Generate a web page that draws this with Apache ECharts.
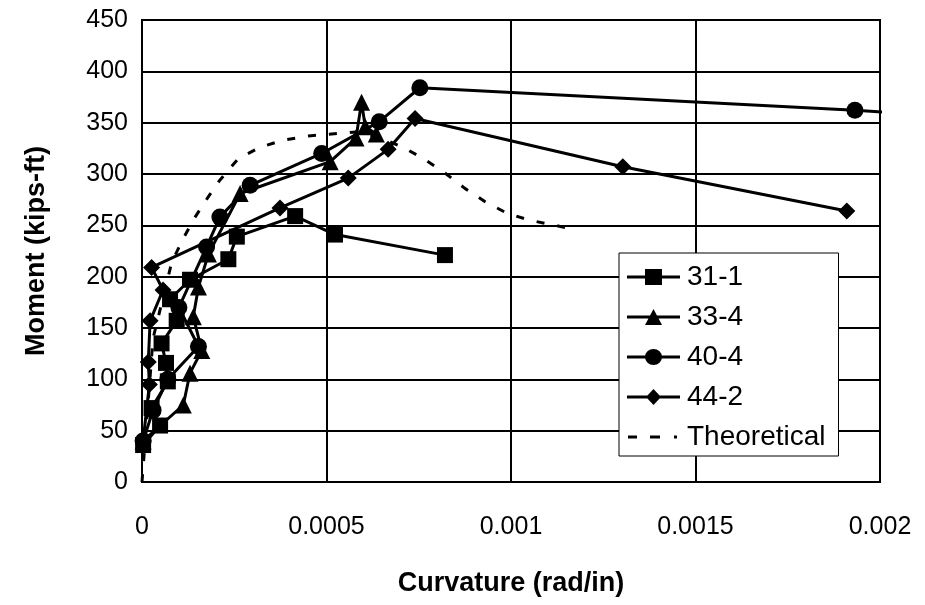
<!DOCTYPE html>
<html>
<head>
<meta charset="utf-8">
<script src="https://cdn.jsdelivr.net/npm/echarts@6/dist/echarts.min.js"></script>
<style>
html,body{margin:0;padding:0;background:#fff;}
#chart{width:925px;height:605px;}
</style>
</head>
<body>
<div id="chart"></div>
<script>
// ---- data ----
var seriesNames = ['31-1', '33-4', '40-4', '44-2', 'Theoretical'];

var x31 = [0.000003, 0.000049, 0.000026, 0.00007, 0.000065, 0.000053, 0.000094, 0.000076, 0.00013, 0.000234, 0.000257, 0.000415, 0.000523, 0.000821];
var y31 = [36, 55, 72, 98, 116, 135, 157, 178, 197, 217, 239, 259, 241, 221];

var x33 = [0.000003, 0.000112, 0.00013, 0.000162, 0.000139, 0.000153, 0.00018, 0.000266, 0.00051, 0.00058, 0.000595, 0.000605, 0.000635];
var y33 = [40, 75, 106, 128, 161, 190, 222, 281, 312, 335, 370, 346, 339];

var x40 = [0.000003, 0.00003, 0.00007, 0.000153, 0.0001, 0.000175, 0.000211, 0.000293, 0.000487, 0.000643, 0.000753, 0.001932, 0.00203];
var y40 = [40, 70, 100, 132, 170, 229, 258, 289, 320, 351, 384, 362, 360];

var x44 = [0.000003, 0.00002, 0.000017, 0.000022, 0.000057, 0.000026, 0.000374, 0.000559, 0.000667, 0.00074, 0.001303, 0.00191];
var y44 = [40, 95, 117, 157, 187, 209, 267, 296, 324, 354, 307, 264];

var xTh = [0, 0.00003, 0.0000805, 0.00011, 0.000142, 0.00018, 0.000211, 0.000261, 0.00032, 0.000383, 0.000451, 0.000514, 0.00058, 0.00064, 0.000708, 0.000767, 0.000821, 0.000875, 0.00093, 0.000988, 0.00105, 0.00112, 0.001179];
var yTh = [0, 140, 214, 236, 257, 278, 294, 315, 326, 333, 337, 339, 341, 336, 326, 314, 301, 286, 273, 262, 255, 250, 245];

var xTicks = [0, 0.0005, 0.001, 0.0015, 0.002];
var yTicks = [0, 50, 100, 150, 200, 250, 300, 350, 400, 450];

function pairs(xs, ys) { return xs.map(function (x, i) { return [x, ys[i]]; }); }

var FONT = 'Liberation Sans, Arial, sans-serif';
var chart = echarts.init(document.getElementById('chart'), null, {renderer: 'canvas'});

function lineSeries(name, data, symbol, size) {
  return {
    name: name, type: 'line', data: data, symbol: symbol, symbolSize: size,
    showAllSymbol: true, animation: false,
    lineStyle: {color: '#000', width: 3},
    itemStyle: {color: '#000', borderWidth: 0}
  };
}

var d40 = pairs(x40, y40);
// last point of 40-4 lies beyond the axis end: no marker, line runs past the border
d40[d40.length - 1] = {value: d40[d40.length - 1], symbol: 'none'};

// legend icons: 53 x 16 box, line through the middle with the marker in the centre
var LINE = 'M0,6.5 L53,6.5 L53,9.5 L0,9.5 Z ';
var icons = [
  'path://' + LINE + 'M18,0 L35,0 L35,16 L18,16 Z',
  'path://' + LINE + 'M18,16 L26.5,0 L35,16 Z',
  'path://' + LINE + 'M18,8 A8.5,8 0 1,1 35,8 A8.5,8 0 1,1 18,8 Z',
  'path://' + LINE + 'M19,8 L26.5,0 L34,8 L26.5,16 Z',
  'path://M0,0 L0.01,0 L0.01,0.01 Z M53,16 L52.99,16 L52.99,15.99 Z M1,6.5 L10,6.5 L10,9.5 L1,9.5 Z M23,6.5 L33,6.5 L33,9.5 L23,9.5 Z M47,6.5 L50,6.5 L50,9.5 L47,9.5 Z'
];

var option = {
  backgroundColor: '#fff',
  animation: false,
  grid: {left: 142, right: 45, top: 20, bottom: 123, show: true, borderColor: '#000', borderWidth: 2, backgroundColor: 'transparent'},
  xAxis: {
    type: 'value', min: 0, max: 0.002, interval: 0.0005,
    name: 'Curvature (rad/in)', nameLocation: 'middle', nameGap: 88,
    nameTextStyle: {fontFamily: FONT, fontSize: 27, fontWeight: 'bold', color: '#000'},
    axisLine: {show: true, lineStyle: {color: '#000', width: 2}},
    axisTick: {show: false},
    axisLabel: {fontFamily: FONT, fontSize: 25, color: '#000', margin: 33,
      formatter: function (v) { return String(Number(v.toFixed(4))); }},
    splitLine: {show: true, lineStyle: {color: '#000', width: 2}}
  },
  yAxis: {
    type: 'value', min: 0, max: 450, interval: 50,
    name: 'Moment (kips-ft)', nameLocation: 'middle', nameGap: 92,
    nameTextStyle: {fontFamily: FONT, fontSize: 27, fontWeight: 'bold', color: '#000'},
    axisLine: {show: true, lineStyle: {color: '#000', width: 2}},
    axisTick: {show: false},
    axisLabel: {fontFamily: FONT, fontSize: 25, color: '#000', margin: 14},
    splitLine: {show: true, lineStyle: {color: '#000', width: 2}}
  },
  legend: {
    data: seriesNames.map(function (n, i) { return {name: n, icon: icons[i]}; }),
    orient: 'vertical', left: 619, top: 253,
    backgroundColor: '#fff', borderColor: '#000', borderWidth: 1,
    padding: [10, 13, 5, 8], itemWidth: 53, itemHeight: 16, itemGap: 12,
    itemStyle: {color: '#000', borderWidth: 0},
    textStyle: {fontFamily: FONT, fontSize: 28, color: '#000', padding: [0, 0, 0, 2]}
  },
  series: [
    lineSeries(seriesNames[0], pairs(x31, y31), 'rect', 16),
    lineSeries(seriesNames[1], pairs(x33, y33), 'triangle', 17),
    Object.assign(lineSeries(seriesNames[2], d40, 'circle', 17), {clip: false}),
    lineSeries(seriesNames[3], pairs(x44, y44), 'diamond', 17),
    {
      name: seriesNames[4], type: 'line', data: pairs(xTh, yTh), symbol: 'none', smooth: false,
      lineStyle: {color: '#000', width: 3, type: [8, 13]},
      itemStyle: {color: '#000'}
    }
  ]
};
chart.setOption(option);
</script>
</body>
</html>
